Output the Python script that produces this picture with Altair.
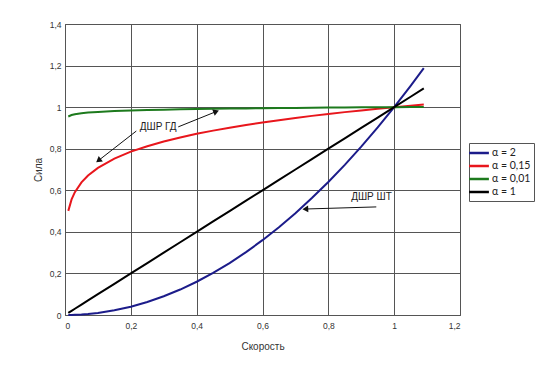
import altair as alt
import pandas as pd

# Speed values (x) at which the curves were read
speed = [0.01, 0.02, 0.03, 0.05, 0.07, 0.1, 0.15, 0.2, 0.25, 0.3, 0.35, 0.4, 0.45,
         0.5, 0.55, 0.6, 0.65, 0.7, 0.75, 0.8, 0.85, 0.9, 0.95, 1.0, 1.05, 1.09]

force_a2 = [0.0001, 0.0004, 0.0009, 0.0025, 0.0049, 0.01, 0.0225, 0.04, 0.0625, 0.09,
            0.1225, 0.16, 0.2025, 0.25, 0.3025, 0.36, 0.4225, 0.49, 0.5625, 0.64,
            0.7225, 0.81, 0.9025, 1.0, 1.1025, 1.188]
force_a015 = [0.501, 0.556, 0.591, 0.638, 0.671, 0.708, 0.752, 0.786, 0.812, 0.835,
              0.854, 0.872, 0.887, 0.901, 0.914, 0.926, 0.937, 0.948, 0.958, 0.967,
              0.976, 0.984, 0.992, 1.0, 1.007, 1.013]
force_a001 = [0.955, 0.962, 0.966, 0.971, 0.974, 0.977, 0.981, 0.984, 0.986, 0.988,
              0.990, 0.991, 0.992, 0.993, 0.994, 0.995, 0.996, 0.996, 0.997, 0.998,
              0.998, 0.999, 0.9995, 1.0, 1.0005, 1.001]
force_a1 = [0.01, 0.02, 0.03, 0.05, 0.07, 0.1, 0.15, 0.2, 0.25, 0.3, 0.35, 0.4, 0.45,
            0.5, 0.55, 0.6, 0.65, 0.7, 0.75, 0.8, 0.85, 0.9, 0.95, 1.0, 1.05, 1.09]

series_names = ["α = 2", "α = 0,15", "α = 0,01", "α = 1"]
series_colors = ["#1c1c8a", "#e8161c", "#1d7a1d", "#000000"]

rows = []
for name, vals in zip(series_names, [force_a2, force_a015, force_a001, force_a1]):
    for i, (x, y) in enumerate(zip(speed, vals)):
        rows.append({"series": name, "x": x, "y": y, "order": i})
df = pd.DataFrame(rows)

# Annotations
label_text = ["ДШР ГД", "ДШР ШТ"]
label_x = [0.283, 0.931]
label_y = [0.905, 0.568]
labels = pd.DataFrame({"t": label_text, "x": label_x, "y": label_y})

arrow_x = [0.2166, 0.344, 0.9457]
arrow_y = [0.885, 0.905, 0.520]
arrow_x2 = [0.104, 0.4566, 0.733]
arrow_y2 = [0.746, 0.977, 0.510]
arrow_angle = [232, 68, 268]
arrows = pd.DataFrame({"x": arrow_x, "y": arrow_y, "x2": arrow_x2, "y2": arrow_y2,
                       "ang": arrow_angle})

x_ticks = [0, 0.2, 0.4, 0.6, 0.8, 1.0, 1.2]
y_ticks = [0, 0.2, 0.4, 0.6, 0.8, 1.0, 1.2, 1.4]

lab_expr = "replace(format(datum.value, '.1~f'), '.', ',')"

xscale = alt.Scale(domain=[0, 1.2], nice=False)
yscale = alt.Scale(domain=[0, 1.4], nice=False)

xaxis = alt.Axis(values=x_ticks, labelExpr=lab_expr, title="Скорость", grid=True,
                 ticks=False, domain=False, labelPadding=6, titlePadding=12,
                 labelFont="Liberation Sans", labelFontSize=8.5, labelColor="#333",
                 titleFont="Liberation Sans", titleFontSize=10, titleFontWeight="normal",
                 titleColor="#333", gridColor="#555", gridWidth=1, gridOpacity=1)
yaxis = alt.Axis(values=y_ticks, labelExpr=lab_expr, title="Сила", grid=True,
                 ticks=False, domain=False, labelPadding=4, titlePadding=6,
                 labelFont="Liberation Sans", labelFontSize=8.5, labelColor="#333",
                 titleFont="Liberation Sans", titleFontSize=10, titleFontWeight="normal",
                 titleColor="#333", gridColor="#555", gridWidth=1, gridOpacity=1)

lines = alt.Chart(df).mark_line(strokeWidth=2).encode(
    x=alt.X("x:Q", scale=xscale, axis=xaxis),
    y=alt.Y("y:Q", scale=yscale, axis=yaxis),
    color=alt.Color("series:N",
                    scale=alt.Scale(domain=series_names, range=series_colors),
                    legend=alt.Legend(title=None, orient="none", legendX=404, legendY=119,
                                      symbolType="M-1.8,0L1.8,0", symbolSize=121,
                                      symbolStrokeWidth=2.5, labelFont="Lato",
                                      labelFontSize=10.5, labelColor="#222",
                                      strokeColor="#555", padding=3, rowPadding=-1,
                                      labelOffset=6, fillColor="white")),
    order="order:Q",
)

arrow_lines = alt.Chart(arrows).mark_rule(color="#111", strokeWidth=1).encode(
    x=alt.X("x:Q", scale=xscale), y=alt.Y("y:Q", scale=yscale), x2="x2:Q", y2="y2:Q"
)
arrow_heads = alt.Chart(arrows).mark_point(shape="triangle", filled=True, color="#111",
                                           size=45, opacity=1).encode(
    x=alt.X("x2:Q", scale=xscale), y=alt.Y("y2:Q", scale=yscale),
    angle=alt.Angle("ang:Q", scale=None)
)
texts = alt.Chart(labels).mark_text(font="Liberation Sans", fontSize=10,
                                    color="#222").encode(
    x=alt.X("x:Q", scale=xscale), y=alt.Y("y:Q", scale=yscale), text="t:N"
)

chart = alt.layer(lines, arrow_lines, arrow_heads, texts).properties(
    width=395, height=291,
    padding={"left": 25, "top": 12, "right": 5, "bottom": 5},
    background="white",
).configure_view(stroke="#555", strokeWidth=1)

chart.save("out.html", embed_options={"renderer": "svg", "actions": False})
